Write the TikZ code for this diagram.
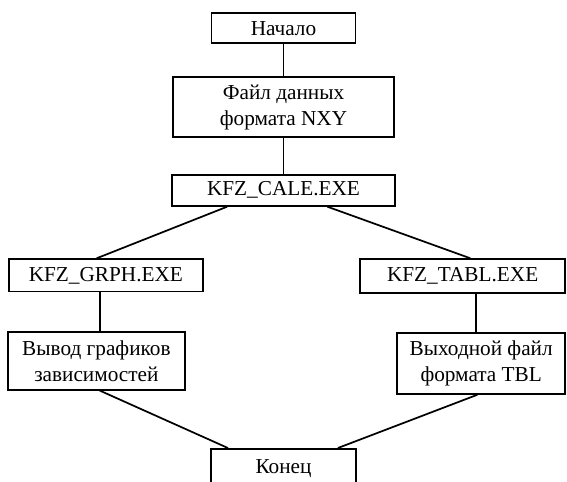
\documentclass[tikz,border=0pt]{standalone}
\usepackage{fontspec}
\setmainfont{Liberation Serif}
\usepackage{tikz}
\usetikzlibrary{positioning}

\begin{document}
\begin{tikzpicture}[
    box/.style={
        draw=black,
        fill=white,
        line width=1.3pt,
        inner sep=0pt,
        align=center,
        font=\fontsize{16}{19.5}\selectfont
    },
    link/.style={
        draw=black,
        line width=1.3pt
    }
]

    % Frame of the page
    \useasboundingbox (0, 0) rectangle (15, 12.725);

    % Nodes Placement

    % Main column
    \node[box, minimum width=3.81cm, minimum height=0.79cm] (start) at (7.50, 11.98) {Начало};
    \node[box, minimum width=5.85cm, minimum height=1.59cm] (data) at (7.50, 9.89) {Файл данных\\формата NXY};
    \node[box, minimum width=5.90cm, minimum height=0.82cm] (calc) at (7.50, 7.69) {KFZ\_CALE.EXE};

    % Left branch
    \node[box, minimum width=5.13cm, minimum height=0.86cm] (grph) at (2.80, 5.44) {KFZ\_GRPH.EXE};
    \node[box, minimum width=4.68cm, minimum height=1.53cm] (plot) at (2.55, 3.18) {Вывод графиков\\зависимостей};

    % Right branch
    \node[box, minimum width=5.42cm, minimum height=0.90cm] (tabl) at (12.24, 5.42) {KFZ\_TABL.EXE};
    \node[box, minimum width=4.44cm, minimum height=1.61cm] (tblout) at (12.73, 3.11) {Выходной файл\\формата TBL};

    % End (cut by the page)
    \node[box, minimum width=3.84cm, minimum height=1.06cm] (finish) at (7.50, 0.32) {Конец};

    % Connections

    % Main column
    \draw[link] (start) -- (data);
    \draw[link] (data) -- (calc);

    % Split into two branches
    \draw[link] ([xshift=-1.49cm]calc.south) -- ([xshift=-0.24cm]grph.north);
    \draw[link] ([xshift=1.16cm]calc.south) -- ([xshift=0.20cm]tabl.north);

    % Left branch
    \draw[link] ([xshift=-0.16cm]grph.south) -- ([xshift=-0.16cm]grph.south |- plot.north);

    % Right branch
    \draw[link] ([xshift=-0.13cm]tblout.north |- tabl.south) -- ([xshift=-0.13cm]tblout.north);

    % Branches -> End
    \draw[link] ([xshift=0.09cm]plot.south) -- ([xshift=-1.47cm]finish.north);
    \draw[link] ([xshift=-0.10cm]tblout.south) -- ([xshift=1.44cm]finish.north);

\end{tikzpicture}
\end{document}
